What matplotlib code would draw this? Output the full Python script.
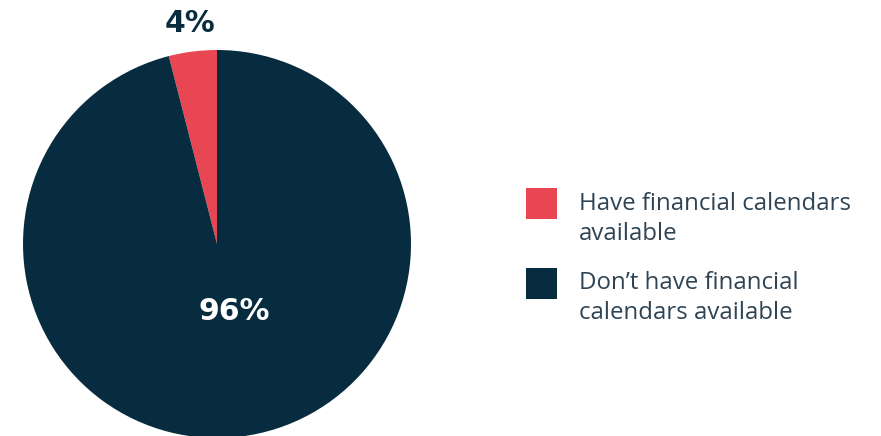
import matplotlib
matplotlib.use("Agg")
import matplotlib.pyplot as plt
from matplotlib.patches import Rectangle

plt.rcParams['font.family'] = ['Open Sans', 'DejaVu Sans']

# Data
categories = ["Have financial calendars\navailable", "Don\u2019t have financial\ncalendars available"]
shares = [4, 96]
colors = ["#E84653", "#082C3F"]
text_color = "#2E4454"

W, H = 881, 436
fig = plt.figure(figsize=(W / 100, H / 100), dpi=100)

# Pie axes placed in pixel units (bottom slightly below the canvas edge)
cx, cy, r = 217, 244, 194
ax = fig.add_axes([(cx - r) / W, (H - (cy + r)) / H, 2 * r / W, 2 * r / H])
ax.pie(shares, colors=colors, startangle=90, counterclock=True, radius=1,
       wedgeprops=dict(linewidth=0))
ax.set_xlim(-1, 1)
ax.set_ylim(-1, 1)
ax.set_aspect('equal')
ax.axis('off')

# Percentage labels (baseline-anchored)
num_font = dict(family='DejaVu Sans', fontsize=21.5, fontweight='bold')
fig.text(190 / W, 1 - 32 / H, f"{shares[0]}%", ha='center', va='baseline',
         color=colors[1], **num_font)
fig.text(234.5 / W, 1 - 320 / H, f"{shares[1]}%", ha='center', va='baseline',
         color='white', **num_font)

# Legend drawn as squares plus two-line labels
legend_rows = [(188, 210), (268, 289)]
line_gap = 30
for (sq_top, base1), label, col in zip(legend_rows, categories, colors):
    fig.patches.append(Rectangle((526 / W, 1 - (sq_top + 31) / H), 31 / W, 31 / H,
                                 transform=fig.transFigure, facecolor=col,
                                 edgecolor='none'))
    for i, line in enumerate(label.split("\n")):
        fig.text(579 / W, 1 - (base1 + i * line_gap) / H, line, ha='left',
                 va='baseline', fontsize=17.3, color=text_color)

fig.savefig("out.png", dpi=100)
